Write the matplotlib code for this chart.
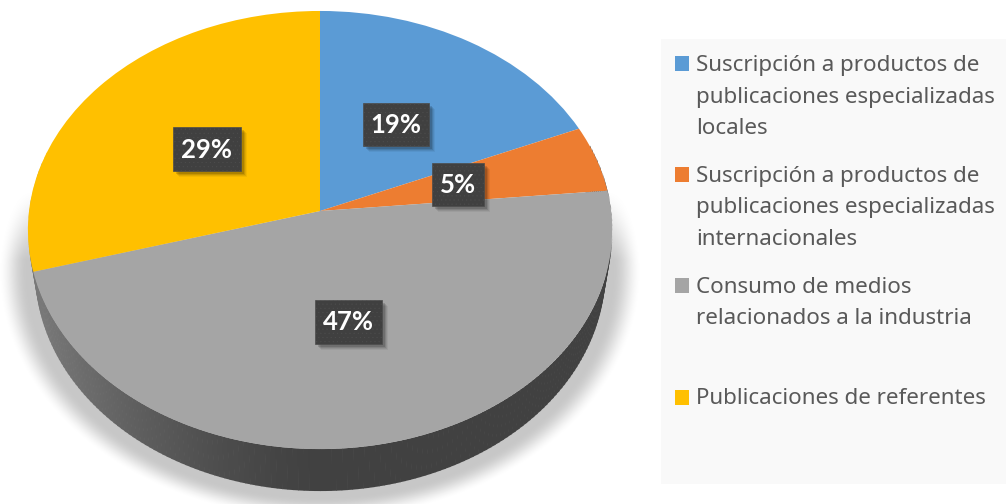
import numpy as np
import matplotlib
matplotlib.use("Agg")
import matplotlib.pyplot as plt
from matplotlib.patches import Rectangle
from matplotlib.transforms import Transform
from matplotlib.collections import PolyCollection

plt.rcParams["hatch.linewidth"] = 0.3

# ---- data ----
labels = [
    "Suscripción a productos de\npublicaciones especializadas\nlocales",
    "Suscripción a productos de\npublicaciones especializadas\ninternacionales",
    "Consumo de medios\nrelacionados a la industria",
    "Publicaciones de referentes",
]
values = [18.6, 4.9, 47.1, 29.4]
colors = ["#5B9BD5", "#ED7D31", "#A5A5A5", "#FFC000"]

# ---- layout (pixels) ----
W, H = 1006, 504
CX, CY = 320, 211
A, B, K = 291.0, 217.4, 0.0868
DEPTH = 42
label_boxes = [(363, 103, 66, 43), (432, 163, 52, 43), (315, 300, 67, 44), (173, 127, 68, 44)]
legend_squares = [56, 167, 278, 390]
legend_baselines = [71, 182, 293, 404]
LINE_PITCH = 31.5


def project(x, y):
    d = 1 + K * y
    return CX + A * x / d, CY - B * y / d


class Perspective(Transform):
    input_dims = output_dims = 2
    is_affine = False
    has_inverse = False

    def transform_non_affine(self, values):
        v = np.asarray(values, float)
        px, py = project(v[:, 0], v[:, 1])
        return np.column_stack([px, py])


fig = plt.figure(figsize=(W / 100, H / 100), dpi=100, facecolor="white")

# shadow in its own axes underneath
bg = fig.add_axes([0, 0, 1, 1], zorder=0)
xe = np.arange(W + 1)
ye = np.arange(H + 1)
xc, yc = np.meshgrid(xe[:-1] + 0.5, ye[:-1] + 0.5)
r = np.sqrt(((xc - 320) / 322.0) ** 2 + ((yc - 272) / 248.0) ** 2)
fade = np.clip((1.0 - r) / 0.09, 0, 1)
fade = fade * fade * (3 - 2 * fade)
top = np.clip((yc - 190) / 70.0, 0, 1)
shade = 1 - (fade * top) * (1 - 0.78)
bg.pcolormesh(xe, ye, shade, cmap="gray", vmin=0, vmax=1, shading="flat")
bg.set_xlim(0, W)
bg.set_ylim(H, 0)
bg.axis("off")

ax = fig.add_axes([0, 0, 1, 1], zorder=1)
wedges, _ = ax.pie(values, colors=colors, startangle=90, counterclock=False,
                   wedgeprops=dict(linewidth=0, antialiased=True))
tr = Perspective() + ax.transData
for w in wedges:
    w.set_transform(tr)
    w.set_zorder(3)
    w.set_clip_on(False)

# side wall
t = np.radians(np.linspace(-196, 18, 215))
tx, ty = project(np.cos(t), np.sin(t))
bx = CX + (tx - CX) * 0.975
by = ty + DEPTH
polys, cols = [], []
for i in range(len(t) - 1):
    polys.append([(tx[i], ty[i]), (tx[i + 1] + 0.6, ty[i + 1]),
                  (bx[i + 1] + 0.6, by[i + 1]), (bx[i], by[i])])
    frac = np.clip((tx[i] - 40) / 280.0, 0, 1)
    g = 0.255 + (0.47 - 0.255) * (1 - frac) ** 1.5
    cols.append(colors[3] if np.degrees(t[i]) < -193 else (g, g, g))
ax.add_collection(PolyCollection(polys, facecolors=cols, edgecolors="none", zorder=2))

# legend
ax.add_patch(Rectangle((661, 39), 345, 445, fc="#F9F9F9", ec="none", zorder=1.5))
for c, lab, ys, yb in zip(colors, labels, legend_squares, legend_baselines):
    ax.add_patch(Rectangle((675, ys), 14, 15, fc=c, ec="none", zorder=4))
    for j, line in enumerate(lab.split("\n")):
        ax.text(696, yb + j * LINE_PITCH, line, fontsize=16.1, family="Noto Sans", color="#595959",
                va="baseline", ha="left", zorder=4)

# data labels
for v, (x, y, w, h) in zip(values, label_boxes):
    for off, al in [(6, 0.05), (5, 0.07), (4, 0.10), (3, 0.14)]:
        ax.add_patch(Rectangle((x + off, y + off), w, h, fc="black", ec="none", alpha=al, zorder=5))
    ax.add_patch(Rectangle((x, y), w, h, fc="#404040", ec="#4C4C4C", lw=0.5, hatch="....", zorder=6))
    ax.text(x + w / 2, y + h / 2 + 0.5, f"{round(v)}%", color="white", fontsize=18.5, family="Lato",
            fontweight="bold", ha="center", va="center", zorder=7)

ax.set_aspect("auto")
ax.set_xlim(0, W)
ax.set_ylim(H, 0)
ax.axis("off")
ax.patch.set_visible(False)
fig.savefig("out.png", dpi=100, facecolor="white")
